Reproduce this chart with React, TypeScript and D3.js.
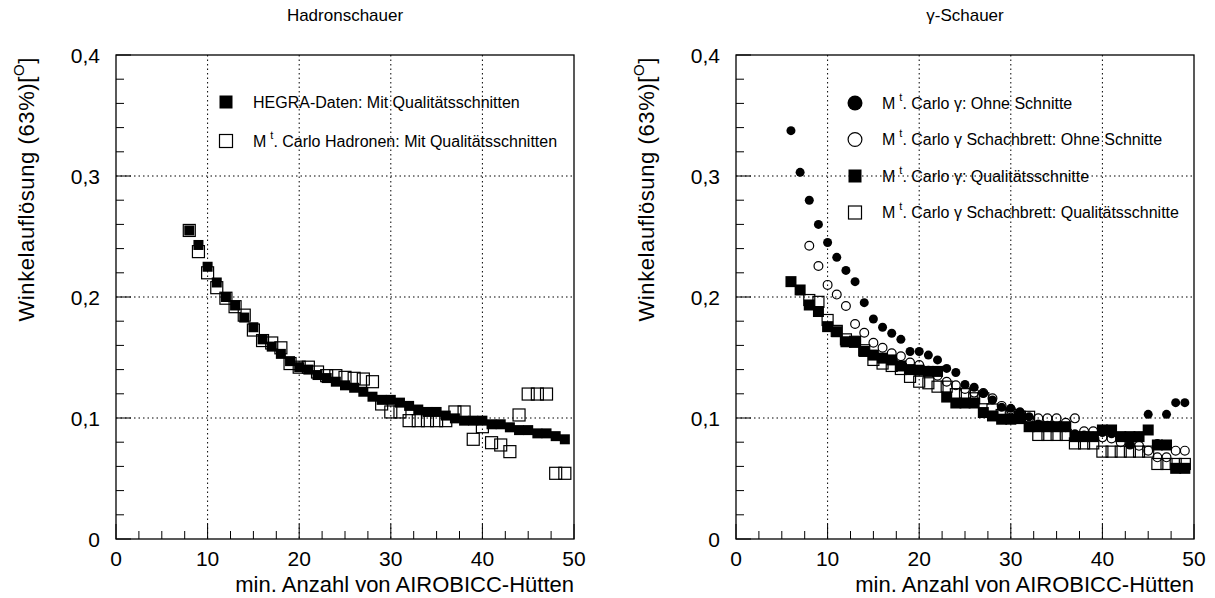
import React from "react";
import * as d3 from "d3";

// ---------- data ----------
const hadronN = d3.range(8, 50);
const hegraData = [0.255, 0.243, 0.225, 0.212, 0.2, 0.193, 0.183, 0.175, 0.165, 0.159, 0.153, 0.147, 0.142, 0.14, 0.1355, 0.133, 0.13, 0.127, 0.125, 0.1217, 0.1176, 0.115, 0.115, 0.1127, 0.11, 0.107, 0.105, 0.105, 0.102, 0.0997, 0.0978, 0.0978, 0.0978, 0.0948, 0.0948, 0.0923, 0.09, 0.09, 0.0873, 0.0873, 0.085, 0.0824];
const mcHadron = [0.255, 0.2375, 0.22, 0.2077, 0.199, 0.192, 0.185, 0.1727, 0.164, 0.162, 0.158, 0.145, 0.142, 0.142, 0.138, 0.135, 0.135, 0.1336, 0.1328, 0.1322, 0.13, 0.1116, 0.105, 0.105, 0.0978, 0.0978, 0.0978, 0.0978, 0.0978, 0.105, 0.105, 0.0824, 0.0928, 0.0796, 0.0777, 0.0722, 0.1025, 0.1198, 0.1198, 0.1198, 0.0543, 0.0543];

const gammaN = d3.range(6, 50);
// M. Carlo gamma, ohne Schnitte (filled circles)
const gammaOhne = [0.3375, 0.303, 0.28, 0.26, 0.245, 0.2328, 0.222, 0.2127, 0.1953, 0.1818, 0.175, 0.17, 0.165, 0.155, 0.155, 0.152, 0.148, 0.141, 0.1376, 0.1277, 0.1254, 0.1204, 0.1149, 0.1088, 0.108, 0.1052, 0.101, 0.095, 0.094, 0.093, 0.092, 0.087, 0.086, 0.085, 0.088, 0.087, 0.084, 0.078, 0.085, 0.103, 0.079, 0.103, 0.1127, 0.1127];
// Schachbrett, ohne Schnitte (open circles), from n=8
const schachOhneN = d3.range(8, 50);
const schachOhne = [0.2424, 0.2256, 0.21, 0.202, 0.1926, 0.1777, 0.1705, 0.1622, 0.158, 0.1535, 0.151, 0.1458, 0.1438, 0.139, 0.135, 0.13, 0.127, 0.124, 0.121, 0.1207, 0.1163, 0.11, 0.107, 0.104, 0.0997, 0.0997, 0.0997, 0.0997, 0.096, 0.0997, 0.089, 0.089, 0.084, 0.083, 0.08, 0.078, 0.077, 0.073, 0.0675, 0.0675, 0.073, 0.073];
// M. Carlo gamma, Qualitaetsschnitte (filled squares)
const gammaQual = [0.2127, 0.2058, 0.1934, 0.188, 0.1755, 0.1713, 0.163, 0.163, 0.155, 0.152, 0.1495, 0.148, 0.143, 0.14, 0.1395, 0.1385, 0.1385, 0.1173, 0.1124, 0.1124, 0.1124, 0.1045, 0.1017, 0.099, 0.099, 0.0995, 0.0928, 0.0928, 0.0928, 0.0928, 0.0928, 0.0846, 0.0846, 0.0846, 0.0901, 0.0901, 0.0846, 0.0846, 0.0846, 0.0901, 0.0777, 0.0777, 0.0584, 0.0584];
// Schachbrett, Qualitaetsschnitte (open squares), from n=8
const schachQual = [0.1975, 0.196, 0.181, 0.172, 0.165, 0.163, 0.156, 0.148, 0.145, 0.143, 0.1405, 0.134, 0.13, 0.1287, 0.1259, 0.1259, 0.1197, 0.1197, 0.1163, 0.1163, 0.107, 0.1025, 0.1025, 0.101, 0.101, 0.086, 0.086, 0.086, 0.086, 0.079, 0.079, 0.079, 0.0722, 0.0722, 0.0722, 0.0722, 0.0722, 0.0722, 0.062, 0.062, 0.062, 0.062];

const xTicks = [0, 10, 20, 30, 40, 50];
const yTicks = [0, 0.1, 0.2, 0.3, 0.4];
const yTickLabels = ["0", "0,1", "0,2", "0,3", "0,4"];
const titles = ["Hadronschauer", "γ-Schauer"];
const xTitle = "min. Anzahl von AIROBICC-Hütten";
const yTitle = "Winkelauflösung (63%)[";

const FONT = "'Liberation Sans', Arial, Helvetica, sans-serif";

type MarkerKind = "fsq" | "osq" | "fc" | "oc";

function Marker({ kind, x, y, size }: { kind: MarkerKind; x: number; y: number; size: number }) {
  if (kind === "fsq") return <rect x={x - size / 2} y={y - size / 2} width={size} height={size} fill="#000" />;
  if (kind === "osq")
    return <rect x={x - size / 2} y={y - size / 2} width={size} height={size} fill="none" stroke="#000" strokeWidth={1.2} />;
  if (kind === "fc") return <circle cx={x} cy={y} r={size / 2} fill="#000" />;
  return <circle cx={x} cy={y} r={size / 2 - 0.6} fill="none" stroke="#000" strokeWidth={1.2} />;
}

type Series = { n: number[]; v: number[]; kind: MarkerKind; size: number };
type LegendItem = { kind: MarkerKind; size: number; pre: string; sup?: string; post: string };

function Panel({
  left,
  title,
  series,
  legend,
  legendX,
  legendY,
  legendDy,
}: {
  left: number;
  title: string;
  series: Series[];
  legend: LegendItem[];
  legendX: number;
  legendY: number;
  legendDy: number;
}) {
  const top = 55;
  const bottom = 539;
  const right = left + 458;
  const x = d3.scaleLinear().domain([0, 50]).range([left, right]);
  const y = d3.scaleLinear().domain([0, 0.4]).range([bottom, top]);
  const xMinor = d3.range(0, 50.01, 2.5);
  const yMinor = d3.range(0, 0.4001, 0.02);
  return (
    <g>
      <text x={(left + right) / 2} y={21} textAnchor="middle" fontSize={17} fontFamily={FONT}>
        {title}
      </text>
      {/* grid */}
      {xTicks.slice(1, -1).map((t) => (
        <line key={"gx" + t} x1={x(t)} x2={x(t)} y1={top} y2={bottom} stroke="#000" strokeWidth={1} strokeDasharray="1.5,3" />
      ))}
      {yTicks.slice(1, -1).map((t) => (
        <line key={"gy" + t} x1={left} x2={right} y1={y(t)} y2={y(t)} stroke="#000" strokeWidth={1} strokeDasharray="1.5,3" />
      ))}
      {/* ticks */}
      {xMinor.map((t, i) => (
        <line key={"tx" + i} x1={x(t)} x2={x(t)} y1={bottom} y2={bottom - (i % 4 === 0 ? 15 : 8)} stroke="#000" strokeWidth={1} />
      ))}
      {yMinor.map((t, i) => (
        <line key={"ty" + i} x1={left} x2={left + (i % 5 === 0 ? 15 : 8)} y1={y(t)} y2={y(t)} stroke="#000" strokeWidth={1} />
      ))}
      {/* frame */}
      <rect x={left} y={top} width={right - left} height={bottom - top} fill="none" stroke="#000" strokeWidth={1.3} />
      {/* tick labels */}
      {xTicks.map((t) => (
        <text key={"lx" + t} x={x(t)} y={bottom + 27} textAnchor="middle" fontSize={21} fontFamily={FONT}>
          {t}
        </text>
      ))}
      {yTicks.map((t, i) => (
        <text key={"ly" + t} x={left - 16} y={y(t) + 7.5} textAnchor="end" fontSize={21} fontFamily={FONT}>
          {yTickLabels[i]}
        </text>
      ))}
      {/* axis titles */}
      <text x={right} y={592} textAnchor="end" fontSize={22} fontFamily={FONT}>
        {xTitle}
      </text>
      <text
        transform={`translate(${left - 82},${top + 2}) rotate(-90)`}
        textAnchor="end"
        fontSize={22}
        letterSpacing={0.6}
        fontFamily={FONT}
      >
        {yTitle}
        <tspan fontSize={15} dy={-10}>
          O
        </tspan>
        <tspan dy={10}>]</tspan>
      </text>
      {/* data */}
      {series.map((s, si) =>
        s.n.map((n, i) => <Marker key={si + "-" + i} kind={s.kind} x={x(n)} y={y(s.v[i])} size={s.size} />)
      )}
      {/* legend */}
      {legend.map((l, i) => {
        const ly = legendY + i * legendDy;
        return (
          <g key={"lg" + i}>
            <Marker kind={l.kind} x={legendX} y={ly} size={l.size} />
            <text x={legendX + 27} y={ly + 5.5} fontSize={16} fontFamily={FONT}>
              {l.pre}
              {l.sup ? (
                <>
                  <tspan fontSize={11} dx={4} dy={-8}>
                    {l.sup}
                  </tspan>
                  <tspan dy={8}>{l.post}</tspan>
                </>
              ) : (
                l.post
              )}
            </text>
          </g>
        );
      })}
    </g>
  );
}

export default function App() {
  return (
    <svg
      width={1215}
      height={598}
      viewBox="0 0 1215 598"
      style={{ position: "absolute", left: 0, top: 0, background: "#fff" }}
    >
      <rect width={1215} height={598} fill="#fff" />
      <Panel
        left={116}
        title={titles[0]}
        series={[
          { n: hadronN, v: mcHadron, kind: "osq", size: 12 },
          { n: hadronN, v: hegraData, kind: "fsq", size: 10 },
        ]}
        legend={[
          { kind: "fsq", size: 13, pre: "HEGRA-Daten: Mit Qualitätsschnitten", post: "" },
          { kind: "osq", size: 13, pre: "M", sup: "t", post: ". Carlo Hadronen: Mit Qualitätsschnitten" },
        ]}
        legendX={226}
        legendY={102}
        legendDy={39}
      />
      <Panel
        left={736}
        title={titles[1]}
        series={[
          { n: gammaN, v: gammaOhne, kind: "fc", size: 9 },
          { n: schachOhneN, v: schachOhne, kind: "oc", size: 10 },
          { n: gammaN, v: gammaQual, kind: "fsq", size: 11 },
          { n: schachOhneN, v: schachQual, kind: "osq", size: 11 },
        ]}
        legend={[
          { kind: "fc", size: 15, pre: "M", sup: "t", post: ". Carlo γ: Ohne Schnitte" },
          { kind: "oc", size: 15, pre: "M", sup: "t", post: ". Carlo γ Schachbrett: Ohne Schnitte" },
          { kind: "fsq", size: 13, pre: "M", sup: "t", post: ". Carlo γ: Qualitätsschnitte" },
          { kind: "osq", size: 13, pre: "M", sup: "t", post: ". Carlo γ Schachbrett: Qualitätsschnitte" },
        ]}
        legendX={855}
        legendY={103}
        legendDy={36.5}
      />
    </svg>
  );
}
